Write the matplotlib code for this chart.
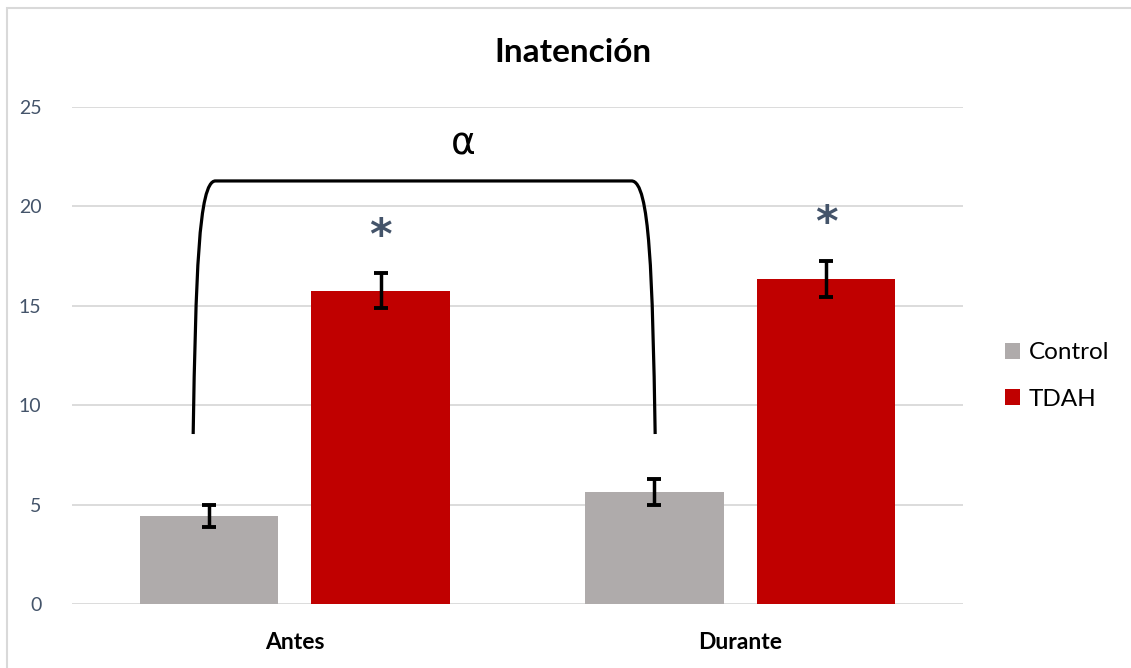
import matplotlib
matplotlib.use("Agg")
import matplotlib.pyplot as plt
from matplotlib.path import Path
from matplotlib.patches import PathPatch, Patch, Rectangle
import numpy as np

plt.rcParams['font.family'] = ['Lato', 'DejaVu Sans']

# --- data ---
categories = ["Antes", "Durante"]
series = ["Control", "TDAH"]
control_vals = [4.43, 5.65]
control_err = [0.55, 0.66]
tdah_vals = [15.75, 16.35]
tdah_err = [0.88, 0.90]
yticks = [0, 5, 10, 15, 20, 25]

colors = {"Control": "#AFABAB", "TDAH": "#C00000"}
star_color = "#44546A"
tick_color = "#44546A"
grid_color = "#D9D9D9"

# bracket anchors (data coords) and annotation positions
bracket_bottom = 8.55
bracket_top = 21.28
bracket_left = -0.228
bracket_right = 0.809
alpha_pos = (0.378, 23.1)
star_y = [18.45, 19.1]

fig = plt.figure(figsize=(11.31, 6.68), dpi=100)
ax = fig.add_axes([72 / 1131, 1 - 604 / 668, (963 - 72) / 1131, (604 - 107) / 668])

x = np.arange(len(categories))
width = 0.31
offset = 0.1925

ekw = dict(ecolor="black", elinewidth=2.5, capsize=5, capthick=2.8)
ax.bar(x - offset, control_vals, width, color=colors["Control"],
       yerr=control_err, error_kw=ekw, zorder=3)
ax.bar(x + offset, tdah_vals, width, color=colors["TDAH"],
       yerr=tdah_err, error_kw=ekw, zorder=3)

ax.set_xlim(-0.5, 1.5)
ax.set_ylim(0, 25)
ax.set_yticks(yticks)
ax.set_yticklabels([str(t) for t in yticks], fontsize=14, color=tick_color)
ax.set_xticks(x)
ax.set_xticklabels(categories, fontsize=16.5, fontweight="bold", color="black")
ax.tick_params(axis="y", length=0, pad=22)
ax.tick_params(axis="x", length=0, pad=20)
ax.yaxis.grid(True, color=grid_color, linewidth=1.3, zorder=0)
ax.set_axisbelow(True)
for s in ax.spines.values():
    s.set_visible(False)

# bracket between the two control bars
xl, xr = bracket_left, bracket_right
verts = [
    (xl, bracket_bottom),
    (xl + 0.006, 16.5), (xl + 0.012, bracket_top), (xl + 0.05, bracket_top),
    (xr - 0.053, bracket_top),
    (xr - 0.012, bracket_top), (xr - 0.006, 16.5), (xr, bracket_bottom),
]
codes = [Path.MOVETO, Path.CURVE4, Path.CURVE4, Path.CURVE4,
         Path.LINETO, Path.CURVE4, Path.CURVE4, Path.CURVE4]
ax.add_patch(PathPatch(Path(verts, codes), facecolor="none", edgecolor="black",
                       linewidth=2.3, zorder=4, capstyle="butt"))
ax.text(alpha_pos[0], alpha_pos[1], "\u03b1", fontsize=27, ha="center", va="center",
        color="black", family=["DejaVu Sans"])

# significance stars above TDAH bars
for xi, sy in zip(x + offset, star_y):
    ax.text(xi, sy, "*", fontsize=31, fontweight="bold", color=star_color,
            ha="center", va="center", zorder=5, family=["DejaVu Sans"])

fig.text(573 / 1131, 1 - 53 / 668, "Inatención", fontsize=24, fontweight="bold",
         ha="center", va="center")

handles = [Patch(facecolor=colors[s], edgecolor="none") for s in series]
fig.legend(handles, series, loc="center left", bbox_to_anchor=(1005 / 1131, 1 - 376 / 668),
           frameon=False, fontsize=17.5, handlelength=0.62, handleheight=0.62,
           handletextpad=0.35, labelspacing=1.05, borderpad=0, borderaxespad=0)

# chart-area border
fig.patches.append(Rectangle((7 / 1131, -0.1), 1.2, 1 - 8 / 668 + 0.1,
                             transform=fig.transFigure, fill=False,
                             edgecolor="#D9D9D9", linewidth=1.5))

fig.savefig("out.png", dpi=100)
